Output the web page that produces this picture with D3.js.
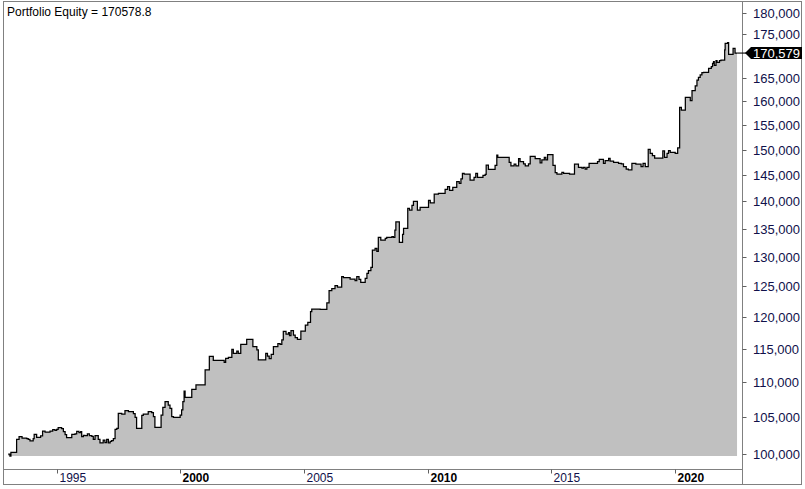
<!DOCTYPE html>
<html><head><meta charset="utf-8">
<script src="https://cdn.jsdelivr.net/npm/d3@7"></script>
<style>body{margin:0;background:#fff}svg{display:block}</style>
</head><body>
<svg id="c" width="805" height="489"></svg>
<script>
const titleText = "Portfolio Equity = 170578.8";
const lastLabel = "170,579";
const dates = [1993.04,1993.11,1993.15,1993.38,1993.48,1993.60,1993.79,1993.85,1993.92,1994.05,1994.09,1994.19,1994.35,1994.43,1994.53,1994.73,1994.84,1994.93,1995.00,1995.06,1995.20,1995.27,1995.34,1995.40,1995.61,1995.74,1995.81,1995.90,1995.97,1996.01,1996.08,1996.14,1996.24,1996.32,1996.42,1996.48,1996.55,1996.68,1996.75,1996.88,1996.95,1997.02,1997.09,1997.16,1997.22,1997.29,1997.36,1997.43,1997.49,1997.63,1997.76,1997.90,1998.10,1998.17,1998.23,1998.44,1998.50,1998.70,1998.84,1998.91,1998.97,1999.22,1999.29,1999.38,1999.51,1999.58,1999.65,1999.72,1999.99,2000.05,2000.10,2000.15,2000.19,2000.46,2000.63,2001.00,2001.17,2001.33,2001.77,2001.83,2001.94,2002.08,2002.14,2002.28,2002.34,2002.44,2002.68,2002.93,2003.09,2003.15,2003.45,2003.52,2003.59,2003.67,2003.76,2003.94,2004.03,2004.10,2004.16,2004.27,2004.37,2004.41,2004.47,2004.57,2004.64,2004.73,2004.87,2005.05,2005.15,2005.26,2005.31,2005.65,2005.92,2006.01,2006.12,2006.25,2006.35,2006.52,2006.59,2006.86,2007.06,2007.13,2007.22,2007.29,2007.47,2007.54,2007.60,2007.70,2007.76,2007.87,2007.94,2008.00,2008.10,2008.28,2008.34,2008.55,2008.61,2008.67,2008.71,2008.85,2008.98,2009.02,2009.19,2009.26,2009.36,2009.42,2009.58,2009.69,2010.03,2010.10,2010.26,2010.43,2010.70,2010.80,2010.88,2011.01,2011.17,2011.27,2011.34,2011.40,2011.47,2011.71,2011.87,2011.94,2012.01,2012.23,2012.32,2012.36,2012.45,2012.72,2012.79,2012.83,2013.29,2013.36,2013.49,2013.56,2013.67,2013.73,2013.87,2013.94,2014.07,2014.14,2014.34,2014.54,2014.61,2014.71,2014.77,2014.84,2015.06,2015.15,2015.22,2015.42,2015.49,2015.73,2015.93,2016.09,2016.23,2016.29,2016.36,2016.43,2016.52,2016.86,2016.93,2017.10,2017.17,2017.31,2017.37,2017.51,2017.71,2017.82,2017.91,2018.02,2018.11,2018.25,2018.41,2018.62,2018.70,2018.79,2018.91,2018.99,2019.08,2019.17,2019.50,2019.57,2019.67,2019.73,2019.80,2020.00,2020.10,2020.18,2020.25,2020.41,2020.61,2020.68,2020.81,2020.88,2020.94,2021.01,2021.08,2021.15,2021.35,2021.46,2021.51,2021.55,2021.58,2021.65,2021.69,2021.79,2021.85,2022.00,2022.02,2022.12,2022.16,2022.34,2022.42,2022.50];
const equity = [100000,99730,100230,101980,102330,102150,102060,101980,101750,102060,102660,102250,102430,103110,102970,103110,103290,103210,103340,103560,103430,103020,102600,102200,102660,102700,103070,102880,103020,102330,102520,102470,102700,102470,102390,101980,102470,101980,101480,101880,101520,101980,101480,101710,101790,102060,103340,103480,105570,105470,105940,105800,105510,105010,103480,105290,105470,105800,105650,105090,103620,105330,106420,107210,106740,106280,105090,105010,105330,106040,107210,108750,107850,109000,109630,111840,113890,113290,112990,113600,113750,114970,114350,114700,114350,115730,116510,115360,114860,113340,114350,113940,113530,114200,115360,115830,115730,116400,117750,117330,117540,117070,117850,117170,116750,116510,117800,118740,119170,120870,121300,121250,122280,124300,124630,125130,124910,126630,126470,126250,125960,126630,126200,125700,126370,127210,127650,128240,131220,131520,131000,133460,132980,133280,133460,133560,133460,134760,136210,132580,133990,135070,138720,138400,139260,140020,138400,138900,140200,139700,141380,141510,142280,142760,142080,142650,143720,143410,144240,145340,145200,144040,144560,145340,144560,144950,145140,146950,146110,146890,148920,148470,147480,146760,147100,146760,148190,147600,147160,146760,147160,148660,148190,147350,147940,148470,147940,148980,146890,145460,145200,145530,145340,145200,147100,146500,146360,146500,146170,146500,147290,147600,148070,147290,147800,148260,147690,147480,147290,147160,146620,146170,145980,147290,147100,146620,147290,146620,150050,149260,148790,148320,149720,148470,149260,149780,149450,149260,150320,158690,158120,160820,160100,162240,163310,164560,165150,165670,166180,166260,167150,167520,168270,168630,167820,168850,168490,168850,169010,171280,172810,172950,170300,171670,170578.8,170578.8];
const xTickYears = [1995,2000,2005,2010,2015,2020];
const boldYears = [2000,2010,2020];
const yTickValues = [100000,105000,110000,115000,120000,125000,130000,135000,140000,145000,150000,155000,160000,165000,175000,180000];

const svg = d3.select("#c");
const L = 3.5, R = 742.5, T = 1.5, B = 469.5, FR = 801.5, FB = 484.5;

const x = d3.scaleLinear().domain([1992.83, 2022.66]).range([3, 741]);
const y = d3.scaleLog().domain([98022, 181857]).range([469, 5]);

const data = dates.map((d, i) => ({d, v: equity[i]}));
const base = d3.min(equity);

const area = d3.area().curve(d3.curveStepAfter)
  .x(p => x(p.d)).y0(y(base)).y1(p => y(p.v));
const line = d3.line().curve(d3.curveStepAfter)
  .x(p => x(p.d)).y(p => y(p.v));

svg.append("path").datum(data).attr("d", area).attr("fill", "#c0c0c0");
svg.append("path").datum(data).attr("d", line)
  .attr("fill", "none").attr("stroke", "#000").attr("stroke-width", 1.25)
  .attr("stroke-linejoin", "miter");

// frame
const frame = svg.append("g").attr("stroke", "#808080").attr("fill", "none").attr("stroke-width", 1);
frame.append("rect").attr("x", L).attr("y", T).attr("width", FR - L).attr("height", FB - T);
frame.append("line").attr("x1", R).attr("x2", R).attr("y1", T).attr("y2", FB);
frame.append("line").attr("x1", L).attr("x2", R).attr("y1", B).attr("y2", B);

// y axis
const yAxis = svg.append("g");
yTickValues.forEach(v => {
  const yy = Math.round(y(v)) + 0.5;
  yAxis.append("line").attr("x1", R).attr("x2", R + 4).attr("y1", yy).attr("y2", yy)
    .attr("stroke", "#606060");
  yAxis.append("text").attr("x", 753).attr("y", yy).attr("dy", "0.36em")
    .attr("font-family", "Arial, 'Liberation Sans', sans-serif").attr("font-size", 13)
    .attr("fill", "#10104a").text(d3.format(",")(v));
});

// last value marker
const lastV = equity[equity.length - 1];
const ly = y(lastV);
svg.append("line").attr("x1", x(dates[dates.length - 1])).attr("x2", 746)
  .attr("y1", ly).attr("y2", ly).attr("stroke", "#000").attr("stroke-width", 1.1);
svg.append("path")
  .attr("d", `M745,${ly} L751,${ly - 6} L802,${ly - 6} L802,${ly + 6} L751,${ly + 6} Z`)
  .attr("fill", "#000");
svg.append("text").attr("x", 753).attr("y", ly).attr("dy", "0.36em")
  .attr("font-family", "Arial, 'Liberation Sans', sans-serif").attr("font-size", 13)
  .attr("fill", "#fff").text(lastLabel);

// x axis
const xAxis = svg.append("g");
xTickYears.forEach(yr => {
  const xx = Math.round(x(yr)) + 0.5;
  xAxis.append("line").attr("x1", xx).attr("x2", xx).attr("y1", B).attr("y2", B + 4)
    .attr("stroke", "#606060");
  xAxis.append("text").attr("x", xx + 2).attr("y", 481.5)
    .attr("font-family", "Arial, 'Liberation Sans', sans-serif").attr("font-size", 12)
    .attr("font-weight", boldYears.includes(yr) ? "bold" : "normal")
    .attr("fill", boldYears.includes(yr) ? "#000" : "#10104a").text(yr);
});

// title
svg.append("text").attr("x", 7).attr("y", 16)
  .attr("font-family", "Arial, 'Liberation Sans', sans-serif").attr("font-size", 12)
  .attr("fill", "#000").text(titleText);
</script>
</body></html>
